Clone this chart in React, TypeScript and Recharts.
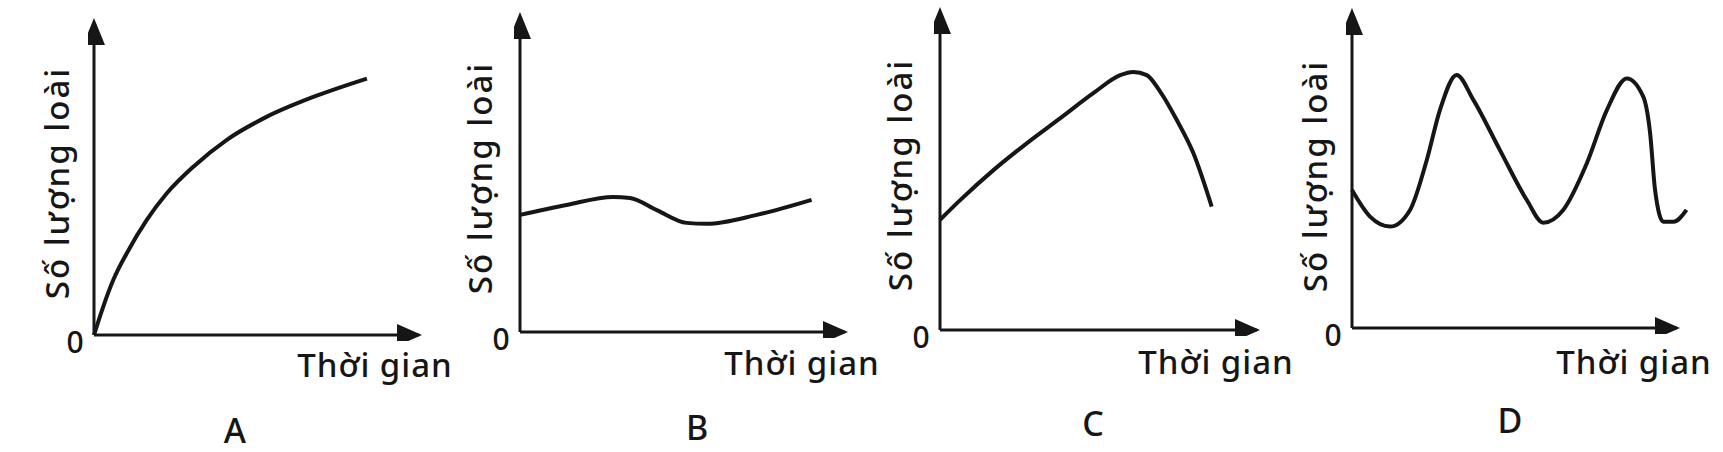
import * as React from 'react';
import { LineChart, Line, XAxis, YAxis, ReferenceLine, ReferenceDot } from 'recharts';

// time (0..100 = x axis arrow tip) and species count (0..100 = y axis arrow tip)
const timeA = [0, 2.8, 5.9, 10, 16.1, 22.2, 30.3, 40.4, 52.6, 66.9, 83.2];
const speciesA = [0, 8.9, 17.4, 25.8, 36.3, 44.7, 53.1, 61.5, 68.8, 75.1, 80.9];

const timeB = [0, 14.2, 28.4, 33.5, 41.7, 50.8, 56.9, 72.2, 88.9];
const speciesB = [36.6, 39.7, 42.2, 41.9, 38.1, 34.1, 33.8, 36.6, 41.3];

const timeC = [0, 6.3, 16.7, 27.1, 37.5, 47.9, 56.3, 60.4, 64.6, 68.8, 74, 79.2, 84.9];
const speciesC = [34.1, 40.2, 49.5, 57.8, 65.5, 73.3, 78.9, 79.9, 78.9, 73.8, 65, 54.7, 38.2];

const timeD = [0, 5.5, 11.6, 17.7, 22.8, 26.8, 31.9, 37, 45.1, 53.3, 58.3, 64.4, 71.6, 77.7, 83.8, 88.8, 90.9, 92.4, 94.9, 98, 102];
const speciesD = [43.1, 34.8, 31.7, 36.9, 52.5, 68.1, 79.1, 71.3, 55.6, 40, 32.9, 36.9, 51.5, 68.1, 78, 72.3, 60.8, 43.1, 33.2, 33.2, 36.9];

const panelLetters = ['A', 'B', 'C', 'D'];
const xAxisLabel = 'Thời gian';
const yAxisLabel = 'Số lượng loài';
const originLabel = '0';

const series = [
  { time: timeA, species: speciesA },
  { time: timeB, species: speciesB },
  { time: timeC, species: speciesC },
  { time: timeD, species: speciesD },
];

// pixel layout of each panel: origin, arrow tips and text anchors
const frames = [
  { ox: 94, oy: 335, tx: 422, ty: 18, ylx: 57, yly: 183, xlx: 375, xly: 365, lx: 235, ly: 430 },
  { ox: 520, oy: 332, tx: 848, ty: 12, ylx: 480, yly: 178, xlx: 802, xly: 363, lx: 697, ly: 427 },
  { ox: 940, oy: 330, tx: 1260, ty: 7, ylx: 900, yly: 175, xlx: 1216, xly: 362, lx: 1093, ly: 423 },
  { ox: 1352, oy: 328, tx: 1680, ty: 8, ylx: 1315, yly: 176, xlx: 1634, xly: 362, lx: 1510, ly: 420 },
];

const INK = '#161616';
const FONT = '"Noto Sans", sans-serif';
const PAD = 6;
const X_MAX = 104;

const ArrowRight = (p: any) => (
  <path d={`M${p.cx},${p.cy} L${p.cx - 25},${p.cy - 11} L${p.cx - 25},${p.cy + 11} Z`} fill={INK} />
);
const ArrowUp = (p: any) => (
  <path d={`M${p.cx},${p.cy} L${p.cx - 11},${p.cy + 27} L${p.cx + 11},${p.cy + 27} Z`} fill={INK} />
);

const Text = ({ x, y, size, spacing = 0, children }: { x: number; y: number; size: number; spacing?: number; children: React.ReactNode }) => (
  <div
    style={{
      position: 'absolute',
      left: x - 200,
      top: y - 25,
      width: 400,
      height: 50,
      lineHeight: '50px',
      textAlign: 'center',
      fontSize: size,
      fontFamily: FONT,
      fontWeight: 500,
      letterSpacing: spacing,
      color: INK,
      whiteSpace: 'nowrap',
    }}
  >
    {children}
  </div>
);

const Panel = ({ index }: { index: number }) => {
  const f = frames[index];
  const s = series[index];
  const data = s.time.map((t, i) => ({ t, n: s.species[i] }));
  const plotW = ((f.tx - f.ox) * X_MAX) / 100;
  const plotH = f.oy - f.ty;
  return (
    <>
      <div style={{ position: 'absolute', left: f.ox - PAD, top: f.ty - PAD }}>
        <LineChart width={plotW + 2 * PAD} height={plotH + 2 * PAD} data={data} margin={{ top: PAD, right: PAD, bottom: PAD, left: PAD }}>
          <XAxis type="number" dataKey="t" domain={[0, X_MAX]} hide />
          <YAxis type="number" domain={[0, 100]} hide />
          <ReferenceLine segment={[{ x: 0, y: 0 }, { x: 99, y: 0 }]} stroke={INK} strokeWidth={3} />
          <ReferenceLine segment={[{ x: 0, y: 0 }, { x: 0, y: 98 }]} stroke={INK} strokeWidth={3} />
          <ReferenceDot x={100} y={0} r={1} shape={ArrowRight} />
          <ReferenceDot x={0} y={100} r={1} shape={ArrowUp} />
          <Line type="monotone" dataKey="n" stroke={INK} strokeWidth={4} dot={false} isAnimationActive={false} />
        </LineChart>
      </div>
      <Text x={f.ox - 19} y={f.oy + 7} size={30}>{originLabel}</Text>
      <Text x={f.xlx} y={f.xly} size={33} spacing={1}>{xAxisLabel}</Text>
      <div style={{ position: 'absolute', left: f.ylx - 200, top: f.yly - 25, width: 400, height: 50, transform: 'rotate(-90deg)' }}>
        <Text x={200} y={25} size={33} spacing={2}>{yAxisLabel}</Text>
      </div>
      <Text x={f.lx} y={f.ly} size={34}>{panelLetters[index]}</Text>
    </>
  );
};

export default function App() {
  return (
    <div style={{ position: 'relative', width: 1723, height: 452, background: '#fff', overflow: 'hidden' }}>
      <style>{'body{margin:0}'}</style>
      {panelLetters.map((_l, i) => (
        <Panel key={i} index={i} />
      ))}
    </div>
  );
}
